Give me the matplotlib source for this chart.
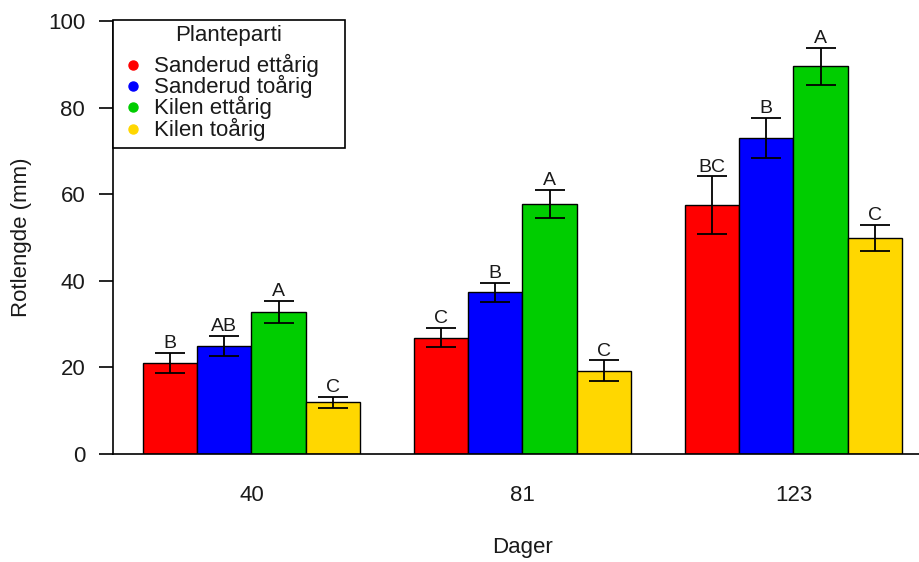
import matplotlib
matplotlib.use("Agg")
import matplotlib.pyplot as plt
from matplotlib.patches import Rectangle
import numpy as np

plt.rcParams['font.family'] = ['Liberation Sans', 'DejaVu Sans']

days = ["40", "81", "123"]
series = ["Sanderud ettårig", "Sanderud toårig", "Kilen ettårig", "Kilen toårig"]
colors = ["#FF0000", "#0000FF", "#00CD00", "#FFD700"]
means = {
    "Sanderud ettårig": [21.0, 26.9, 57.5],
    "Sanderud toårig": [24.9, 37.3, 73.0],
    "Kilen ettårig": [32.8, 57.7, 89.5],
    "Kilen toårig": [11.9, 19.2, 49.9],
}
errors = {
    "Sanderud ettårig": [2.3, 2.2, 6.6],
    "Sanderud toårig": [2.3, 2.2, 4.6],
    "Kilen ettårig": [2.5, 3.2, 4.3],
    "Kilen toårig": [1.3, 2.4, 3.0],
}
letters = {
    "Sanderud ettårig": ["B", "C", "BC"],
    "Sanderud toårig": ["AB", "B", "B"],
    "Kilen ettårig": ["A", "A", "A"],
    "Kilen toårig": ["C", "C", "C"],
}

W, H = 919, 562
fig = plt.figure(figsize=(W/100, H/100), dpi=100)
ax = fig.add_axes([113/W, (H-454)/H, (W-113)/W, (454-21)/H])

def px(x, y):
    return (x/W, 1 - y/H)

ng = len(days)
ns = len(series)
for j, s in enumerate(series):
    xs = np.array([1 + g*(ns+1) + j + 0.5 for g in range(ng)])
    ax.bar(xs, means[s], width=1.0, color=colors[j], edgecolor="black", linewidth=1.0, zorder=2)
    ax.errorbar(xs, means[s], yerr=errors[s], fmt="none", ecolor="black", elinewidth=1.3,
                capsize=10.5, capthick=1.3, zorder=3)
    for x, m, e, l in zip(xs, means[s], errors[s], letters[s]):
        ax.annotate(l, (x, m+e), xytext=(0, 3.5), textcoords="offset points",
                    ha="center", va="baseline", fontsize=14, color="#1a1a1a")

centers = [1 + g*(ns+1) + ns/2 for g in range(ng)]
ax.set_xlim(1 - 0.554, 1 - 0.554 + 14.87)
ax.set_ylim(0, 100)
ax.set_xticks(centers)
ax.set_xticklabels(days, fontsize=16, color="#1a1a1a")
ax.tick_params(axis="x", length=0, pad=22)
ax.set_yticks([0, 20, 40, 60, 80, 100])
ax.tick_params(axis="y", length=10, width=1.2, labelsize=16, pad=10, labelcolor="#1a1a1a")
for sp in ["top", "right"]:
    ax.spines[sp].set_visible(False)
ax.spines["left"].set_linewidth(1.2)
ax.spines["bottom"].set_linewidth(1.2)

fig.text(*px(22, 237), "Rotlengde (mm)", rotation=90, ha="center", va="center",
         fontsize=16, color="#1a1a1a")
fig.text(*px(522, 548), "Dager", ha="center", va="center", fontsize=16, color="#1a1a1a")

# legend drawn manually
x0, y0 = px(113, 148)
x1, y1 = px(345, 20)
fig.patches.append(Rectangle((x0, y0), x1 - x0, y1 - y0, transform=fig.transFigure,
                             facecolor="white", edgecolor="black", linewidth=1.2, zorder=5))
fig.text(*px(229, 36), "Planteparti", ha="center", va="center", fontsize=16,
         color="#1a1a1a", zorder=6)
ys = [65, 86, 107, 129]
for c, s, yy in zip(colors, series, ys):
    mx, my = px(133, yy)
    fig.add_artist(plt.Line2D([mx], [my], marker="o", markersize=6.5, color=c,
                              linestyle="none", transform=fig.transFigure, zorder=6))
    fig.text(*px(154, yy), s, ha="left", va="center", fontsize=16, color="#1a1a1a", zorder=6)

fig.savefig("out.png", dpi=100)
